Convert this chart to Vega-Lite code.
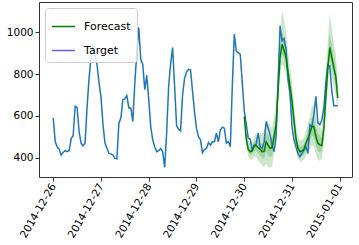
{
"$schema": "https://vega.github.io/schema/vega-lite/v6.json",
"width": 313, "height": 175,
"autosize": "none",
"padding": {"left": 39, "top": 2, "right": 7, "bottom": 68},
"config": {
 "font": "DejaVu Sans",
 "view": {"stroke": "#333", "strokeWidth": 1},
 "axis": {"labelFont": "DejaVu Sans", "labelFontSize": 10.5, "labelColor": "#000", "tickColor": "#333", "tickSize": 4, "domain": false, "grid": false, "title": null}
},
"datasets": {
"legend": [{"s":"Forecast","t":"2014-12-30T00:00","y":597},{"s":"Target","t":"2014-12-30T00:00","y":625}],
"target": [
{"t":"2014-12-26T00:00","y":589},{"t":"2014-12-26T01:00","y":476},{"t":"2014-12-26T02:00","y":452},{"t":"2014-12-26T03:00","y":440},{"t":"2014-12-26T04:00","y":412},{"t":"2014-12-26T05:00","y":425},{"t":"2014-12-26T06:00","y":433},{"t":"2014-12-26T07:00","y":428},{"t":"2014-12-26T08:00","y":433},{"t":"2014-12-26T09:00","y":490},{"t":"2014-12-26T10:00","y":505},{"t":"2014-12-26T11:00","y":646},{"t":"2014-12-26T12:00","y":640},{"t":"2014-12-26T13:00","y":525},{"t":"2014-12-26T14:00","y":469},{"t":"2014-12-26T15:00","y":457},{"t":"2014-12-26T16:00","y":470},{"t":"2014-12-26T17:00","y":640},{"t":"2014-12-26T18:00","y":780},{"t":"2014-12-26T19:00","y":880},{"t":"2014-12-26T20:00","y":938},{"t":"2014-12-26T21:00","y":890},{"t":"2014-12-26T22:00","y":845},{"t":"2014-12-26T23:00","y":760},
{"t":"2014-12-27T00:00","y":690},{"t":"2014-12-27T01:00","y":560},{"t":"2014-12-27T02:00","y":470},{"t":"2014-12-27T03:00","y":445},{"t":"2014-12-27T04:00","y":420},{"t":"2014-12-27T05:00","y":418},{"t":"2014-12-27T06:00","y":412},{"t":"2014-12-27T07:00","y":396},{"t":"2014-12-27T08:00","y":394},{"t":"2014-12-27T09:00","y":565},{"t":"2014-12-27T10:00","y":590},{"t":"2014-12-27T11:00","y":678},{"t":"2014-12-27T12:00","y":681},{"t":"2014-12-27T13:00","y":697},{"t":"2014-12-27T14:00","y":638},{"t":"2014-12-27T15:00","y":638},{"t":"2014-12-27T16:00","y":573},{"t":"2014-12-27T17:00","y":758},{"t":"2014-12-27T18:00","y":903},{"t":"2014-12-27T19:00","y":1024},{"t":"2014-12-27T20:00","y":871},{"t":"2014-12-27T21:00","y":847},{"t":"2014-12-27T22:00","y":726},{"t":"2014-12-27T23:00","y":794},
{"t":"2014-12-28T00:00","y":678},{"t":"2014-12-28T01:00","y":549},{"t":"2014-12-28T02:00","y":485},{"t":"2014-12-28T03:00","y":452},{"t":"2014-12-28T04:00","y":428},{"t":"2014-12-28T05:00","y":433},{"t":"2014-12-28T06:00","y":444},{"t":"2014-12-28T07:00","y":428},{"t":"2014-12-28T08:00","y":353},{"t":"2014-12-28T09:00","y":517},{"t":"2014-12-28T10:00","y":742},{"t":"2014-12-28T11:00","y":850},{"t":"2014-12-28T12:00","y":928},{"t":"2014-12-28T13:00","y":742},{"t":"2014-12-28T14:00","y":552},{"t":"2014-12-28T15:00","y":536},{"t":"2014-12-28T16:00","y":528},{"t":"2014-12-28T17:00","y":700},{"t":"2014-12-28T18:00","y":780},{"t":"2014-12-28T19:00","y":810},{"t":"2014-12-28T20:00","y":823},{"t":"2014-12-28T21:00","y":820},{"t":"2014-12-28T22:00","y":720},{"t":"2014-12-28T23:00","y":620},
{"t":"2014-12-29T00:00","y":541},{"t":"2014-12-29T01:00","y":500},{"t":"2014-12-29T02:00","y":485},{"t":"2014-12-29T03:00","y":423},{"t":"2014-12-29T04:00","y":439},{"t":"2014-12-29T05:00","y":444},{"t":"2014-12-29T06:00","y":472},{"t":"2014-12-29T07:00","y":460},{"t":"2014-12-29T08:00","y":476},{"t":"2014-12-29T09:00","y":476},{"t":"2014-12-29T10:00","y":517},{"t":"2014-12-29T11:00","y":476},{"t":"2014-12-29T12:00","y":533},{"t":"2014-12-29T13:00","y":546},{"t":"2014-12-29T14:00","y":541},{"t":"2014-12-29T15:00","y":469},{"t":"2014-12-29T16:00","y":476},{"t":"2014-12-29T17:00","y":452},{"t":"2014-12-29T18:00","y":742},{"t":"2014-12-29T19:00","y":992},{"t":"2014-12-29T20:00","y":911},{"t":"2014-12-29T21:00","y":903},{"t":"2014-12-29T22:00","y":895},{"t":"2014-12-29T23:00","y":760},
{"t":"2014-12-30T00:00","y":625},{"t":"2014-12-30T01:00","y":562},{"t":"2014-12-30T02:00","y":493},{"t":"2014-12-30T03:00","y":488},{"t":"2014-12-30T04:00","y":436},{"t":"2014-12-30T05:00","y":460},{"t":"2014-12-30T06:00","y":465},{"t":"2014-12-30T07:00","y":517},{"t":"2014-12-30T08:00","y":452},{"t":"2014-12-30T09:00","y":444},{"t":"2014-12-30T10:00","y":476},{"t":"2014-12-30T11:00","y":573},{"t":"2014-12-30T12:00","y":541},{"t":"2014-12-30T13:00","y":509},{"t":"2014-12-30T14:00","y":460},{"t":"2014-12-30T15:00","y":428},{"t":"2014-12-30T16:00","y":501},{"t":"2014-12-30T17:00","y":758},{"t":"2014-12-30T18:00","y":1032},{"t":"2014-12-30T19:00","y":960},{"t":"2014-12-30T20:00","y":971},{"t":"2014-12-30T21:00","y":919},{"t":"2014-12-30T22:00","y":774},{"t":"2014-12-30T23:00","y":710},
{"t":"2014-12-31T00:00","y":549},{"t":"2014-12-31T01:00","y":485},{"t":"2014-12-31T02:00","y":452},{"t":"2014-12-31T03:00","y":420},{"t":"2014-12-31T04:00","y":404},{"t":"2014-12-31T05:00","y":420},{"t":"2014-12-31T06:00","y":436},{"t":"2014-12-31T07:00","y":452},{"t":"2014-12-31T08:00","y":420},{"t":"2014-12-31T09:00","y":557},{"t":"2014-12-31T10:00","y":549},{"t":"2014-12-31T11:00","y":605},{"t":"2014-12-31T12:00","y":694},{"t":"2014-12-31T13:00","y":565},{"t":"2014-12-31T14:00","y":557},{"t":"2014-12-31T15:00","y":580},{"t":"2014-12-31T16:00","y":640},{"t":"2014-12-31T17:00","y":760},{"t":"2014-12-31T18:00","y":847},{"t":"2014-12-31T19:00","y":839},{"t":"2014-12-31T20:00","y":720},{"t":"2014-12-31T21:00","y":649},{"t":"2014-12-31T22:00","y":649},{"t":"2014-12-31T23:00","y":649}
],
"fc": [
{"t":"2014-12-30T00:00","f":597,"a":575,"b":588,"c":606,"d":620},
{"t":"2014-12-30T01:00","f":490,"a":455,"b":475,"c":505,"d":525},
{"t":"2014-12-30T02:00","f":440,"a":405,"b":425,"c":458,"d":480},
{"t":"2014-12-30T03:00","f":428,"a":390,"b":412,"c":445,"d":470},
{"t":"2014-12-30T04:00","f":433,"a":392,"b":415,"c":452,"d":478},
{"t":"2014-12-30T05:00","f":455,"a":405,"b":432,"c":475,"d":505},
{"t":"2014-12-30T06:00","f":458,"a":400,"b":432,"c":482,"d":515},
{"t":"2014-12-30T07:00","f":448,"a":385,"b":420,"c":475,"d":515},
{"t":"2014-12-30T08:00","f":440,"a":375,"b":410,"c":470,"d":515},
{"t":"2014-12-30T09:00","f":428,"a":360,"b":398,"c":462,"d":515},
{"t":"2014-12-30T10:00","f":430,"a":355,"b":395,"c":470,"d":530},
{"t":"2014-12-30T11:00","f":476,"a":370,"b":430,"c":520,"d":580},
{"t":"2014-12-30T12:00","f":460,"a":355,"b":410,"c":505,"d":570},
{"t":"2014-12-30T13:00","f":444,"a":350,"b":400,"c":490,"d":550},
{"t":"2014-12-30T14:00","f":450,"a":360,"b":410,"c":495,"d":545},
{"t":"2014-12-30T15:00","f":500,"a":420,"b":460,"c":540,"d":590},
{"t":"2014-12-30T16:00","f":560,"a":480,"b":520,"c":600,"d":650},
{"t":"2014-12-30T17:00","f":726,"a":640,"b":690,"c":770,"d":830},
{"t":"2014-12-30T18:00","f":880,"a":790,"b":840,"c":930,"d":1010},
{"t":"2014-12-30T19:00","f":943,"a":850,"b":900,"c":1000,"d":1104},
{"t":"2014-12-30T20:00","f":915,"a":830,"b":875,"c":965,"d":1060},
{"t":"2014-12-30T21:00","f":880,"a":800,"b":840,"c":925,"d":1000},
{"t":"2014-12-30T22:00","f":810,"a":730,"b":770,"c":850,"d":910},
{"t":"2014-12-30T23:00","f":740,"a":660,"b":700,"c":780,"d":830},
{"t":"2014-12-31T00:00","f":670,"a":590,"b":630,"c":710,"d":760},
{"t":"2014-12-31T01:00","f":580,"a":510,"b":545,"c":615,"d":660},
{"t":"2014-12-31T02:00","f":490,"a":430,"b":460,"c":520,"d":555},
{"t":"2014-12-31T03:00","f":445,"a":395,"b":420,"c":470,"d":500},
{"t":"2014-12-31T04:00","f":428,"a":380,"b":405,"c":452,"d":480},
{"t":"2014-12-31T05:00","f":432,"a":385,"b":410,"c":455,"d":485},
{"t":"2014-12-31T06:00","f":440,"a":390,"b":415,"c":465,"d":495},
{"t":"2014-12-31T07:00","f":469,"a":410,"b":440,"c":495,"d":530},
{"t":"2014-12-31T08:00","f":493,"a":425,"b":460,"c":525,"d":565},
{"t":"2014-12-31T09:00","f":517,"a":440,"b":478,"c":555,"d":600},
{"t":"2014-12-31T10:00","f":549,"a":460,"b":505,"c":595,"d":645},
{"t":"2014-12-31T11:00","f":549,"a":455,"b":500,"c":595,"d":650},
{"t":"2014-12-31T12:00","f":500,"a":415,"b":460,"c":545,"d":595},
{"t":"2014-12-31T13:00","f":470,"a":390,"b":430,"c":515,"d":560},
{"t":"2014-12-31T14:00","f":460,"a":385,"b":425,"c":505,"d":545},
{"t":"2014-12-31T15:00","f":458,"a":395,"b":430,"c":495,"d":530},
{"t":"2014-12-31T16:00","f":540,"a":470,"b":505,"c":580,"d":620},
{"t":"2014-12-31T17:00","f":690,"a":610,"b":650,"c":740,"d":790},
{"t":"2014-12-31T18:00","f":830,"a":740,"b":785,"c":890,"d":960},
{"t":"2014-12-31T19:00","f":928,"a":830,"b":880,"c":990,"d":1088},
{"t":"2014-12-31T20:00","f":880,"a":790,"b":835,"c":940,"d":1020},
{"t":"2014-12-31T21:00","f":830,"a":740,"b":785,"c":885,"d":950},
{"t":"2014-12-31T22:00","f":790,"a":700,"b":745,"c":840,"d":900},
{"t":"2014-12-31T23:00","f":686,"a":620,"b":655,"c":720,"d":760}
]
},
"encoding": {
 "x": {"field": "t", "type": "temporal",
  "scale": {"domain": [{"year": 2014, "month": 12, "date": 25, "hours": 16, "minutes": 51}, {"year": 2015, "month": 1, "date": 1, "hours": 6, "minutes": 9}]},
  "axis": {"format": "%Y-%m-%d", "tickCount": {"interval": "day", "step": 1}, "labelAngle": -60, "labelAlign": "right", "labelBaseline": "middle", "labelPadding": 3, "labelOverlap": false}}
},
"layer": [
 {"data": {"name": "fc"}, "mark": {"type": "area", "color": "green", "opacity": 0.2},
  "encoding": {"y": {"field": "a", "type": "quantitative", "scale": {"domain": [307, 1146], "nice": false, "zero": false}, "axis": {"values": [400, 600, 800, 1000], "format": "d"}}, "y2": {"field": "d"}}},
 {"data": {"name": "fc"}, "mark": {"type": "area", "color": "green", "opacity": 0.2},
  "encoding": {"y": {"field": "b", "type": "quantitative"}, "y2": {"field": "c"}}},
 {"data": {"name": "legend"}, "mark": {"type": "line", "strokeWidth": 1.5},
  "encoding": {"y": {"field": "y", "type": "quantitative"},
   "color": {"field": "s", "type": "nominal",
    "scale": {"domain": ["Forecast", "Target"], "range": ["green", "#6060ff"]},
    "legend": {"title": null, "orient": "top-left", "offset": 6, "symbolType": "stroke", "symbolSize": 529, "symbolStrokeWidth": 1.5, "labelFontSize": 11, "labelFont": "DejaVu Sans", "labelColor": "#000", "labelOffset": 8, "rowPadding": 6, "padding": 6, "fillColor": "rgba(255,255,255,0.8)", "strokeColor": "#ccc", "cornerRadius": 3}}}},
 {"data": {"name": "target"}, "mark": {"type": "line", "strokeWidth": 1.5, "color": "#1f77b4"},
  "encoding": {"y": {"field": "y", "type": "quantitative"}}},
 {"data": {"name": "fc"}, "mark": {"type": "line", "strokeWidth": 1.5, "color": "green"},
  "encoding": {"y": {"field": "f", "type": "quantitative"}}}
]
}
